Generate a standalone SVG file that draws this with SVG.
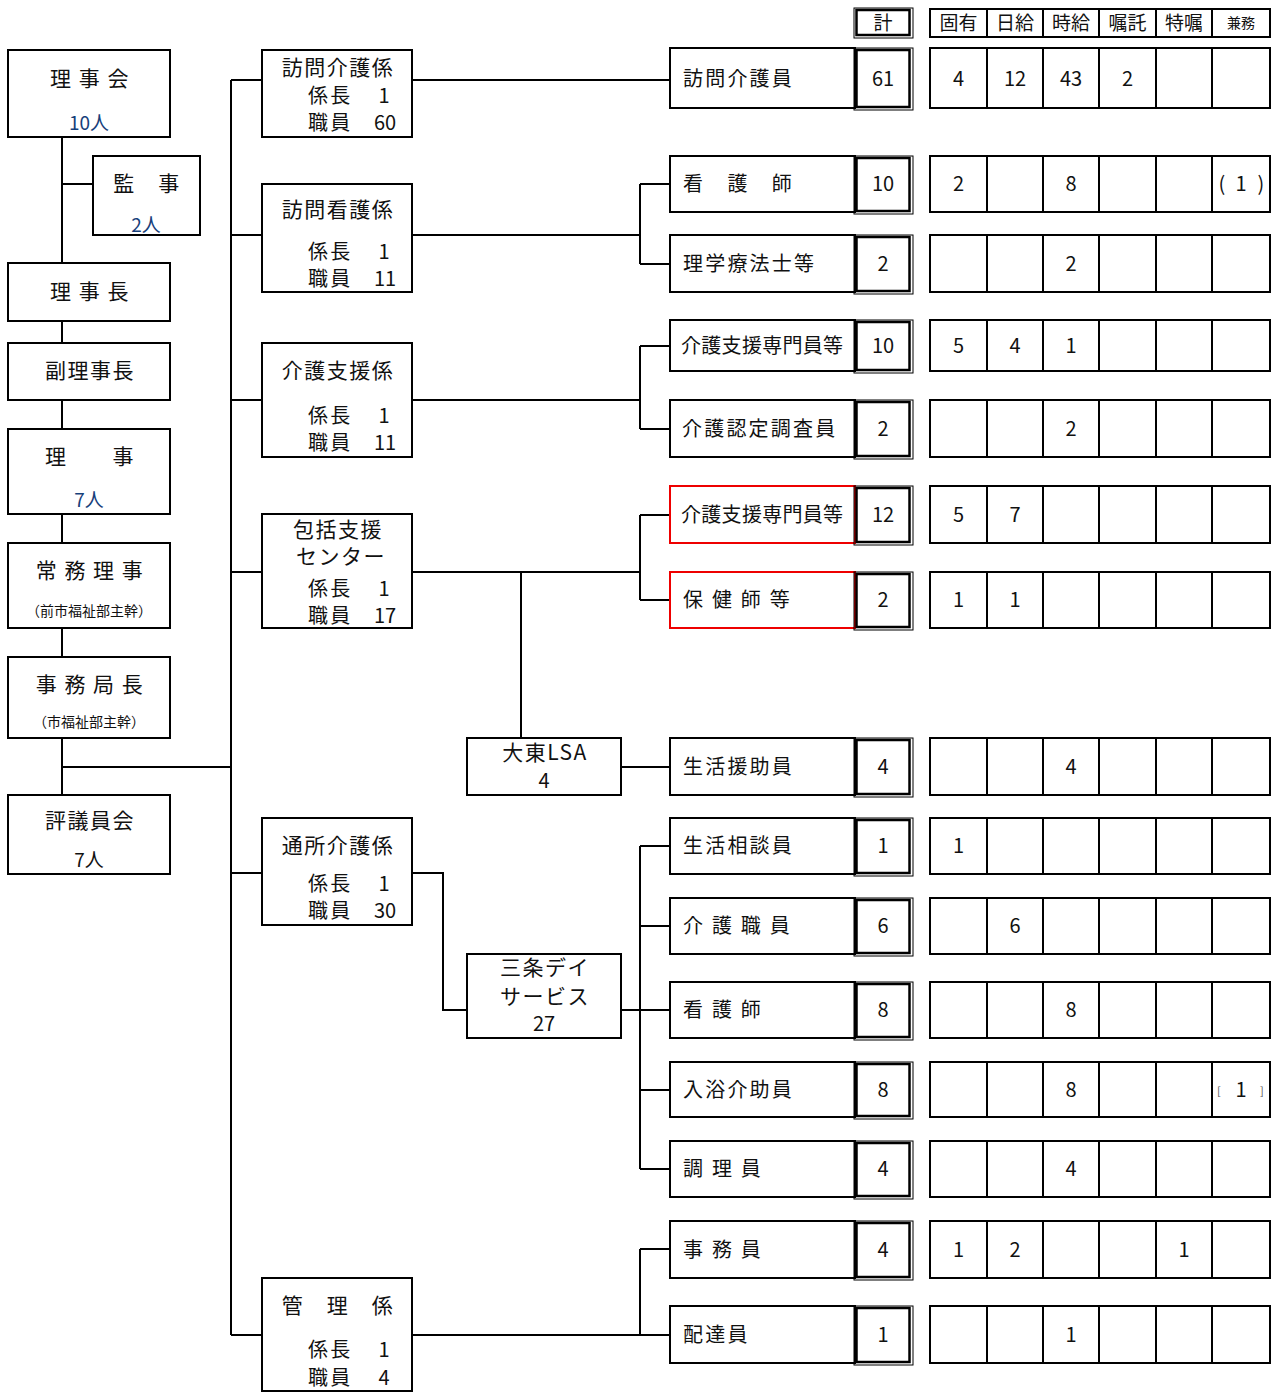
<svg xmlns="http://www.w3.org/2000/svg" width="1274" height="1392" viewBox="0 0 1274 1392">
<style>
text{font-family:"Noto Sans CJK JP","Noto Sans CJK SC",sans-serif;fill:#111}
.b{fill:#fff;stroke:#000;stroke-width:2}
.r{fill:#fff;stroke:#e00;stroke-width:2}
.ln{stroke:#000;stroke-width:2;fill:none}
.o{fill:none;stroke:#000;stroke-width:1}
.i{fill:none;stroke:#000;stroke-width:2.5}
.t{font-size:21px;text-anchor:middle;letter-spacing:1.5px}
.s{font-size:14px;text-anchor:middle}
.m{font-size:19px;text-anchor:middle}
.lb{font-size:20px;letter-spacing:2.2px}
.n{font-size:20px;text-anchor:middle}
.bl{fill:#17407a}
</style>
<g id="connectors">
<path class="ln" d="M62 137V795M62 184H93M62 767H231M231 80V1335M231 80H262M231 235H262M231 400H262M231 572H262M231 873H262M231 1335H262"/>
<path class="ln" d="M412 80H670M412 235H640M640 184V264M640 184H670M640 264H670"/>
<path class="ln" d="M412 400H640M640 346V429M640 346H670M640 429H670"/>
<path class="ln" d="M412 572H640M640 515V600M640 515H670M640 600H670M521 572V738M621 767H670"/>
<path class="ln" d="M412 873H443V1010H467M621 1010H640M640 846V1169M640 846H670M640 926H670M640 1010H670M640 1090H670M640 1169H670"/>
<path class="ln" d="M412 1335H670M640 1249V1335M640 1249H670"/>
</g>
<g id="rijikai"><rect class="b" x="8" y="50" width="162" height="87"/><text class="t" x="90" y="86">理 事 会</text><text class="m bl" x="89" y="130">10人</text></g>
<g id="kanji"><rect class="b" x="93" y="156" width="107" height="79"/><text class="t" x="147" y="191">監　事</text><text class="m bl" x="146" y="232">2人</text></g>
<g id="rijicho"><rect class="b" x="8" y="263" width="162" height="58"/><text class="t" x="90" y="299">理 事 長</text></g>
<g id="fukurijicho"><rect class="b" x="8" y="343" width="162" height="57"/><text class="t" x="90" y="378">副理事長</text></g>
<g id="riji"><rect class="b" x="8" y="429" width="162" height="85"/><text class="t" x="90" y="464">理　　事</text><text class="m bl" x="89" y="507">7人</text></g>
<g id="jomuriji"><rect class="b" x="8" y="543" width="162" height="85"/><text class="t" x="90" y="578">常 務 理 事</text><text class="s" x="89" y="616">（前市福祉部主幹）</text></g>
<g id="jimukyokucho"><rect class="b" x="8" y="657" width="162" height="81"/><text class="t" x="90" y="692">事 務 局 長</text><text class="s" x="89" y="727">（市福祉部主幹）</text></g>
<g id="hyogiinkai"><rect class="b" x="8" y="795" width="162" height="79"/><text class="t" x="90" y="828">評議員会</text><text class="m" x="89" y="867">7人</text></g>

<g id="houmonkaigo"><rect class="b" x="262" y="50" width="150" height="87"/><text class="t" x="338" y="75">訪問介護係</text><text class="lb" x="308" y="103">係長</text><text class="n" x="384" y="103">1</text><text class="lb" x="308" y="130">職員</text><text class="n" x="385" y="130">60</text></g>
<g id="houmonkango"><rect class="b" x="262" y="184" width="150" height="108"/><text class="t" x="338" y="217">訪問看護係</text><text class="lb" x="308" y="259">係長</text><text class="n" x="384" y="259">1</text><text class="lb" x="308" y="286">職員</text><text class="n" x="385" y="286">11</text></g>
<g id="kaigoshien"><rect class="b" x="262" y="343" width="150" height="114"/><text class="t" x="338" y="378">介護支援係</text><text class="lb" x="308" y="423">係長</text><text class="n" x="384" y="423">1</text><text class="lb" x="308" y="450">職員</text><text class="n" x="385" y="450">11</text></g>
<g id="houkatsu"><rect class="b" x="262" y="514" width="150" height="114"/><text class="t" x="338" y="537">包括支援</text><text class="t" x="341" y="564">センター</text><text class="lb" x="308" y="596">係長</text><text class="n" x="384" y="596">1</text><text class="lb" x="308" y="623">職員</text><text class="n" x="385" y="623">17</text></g>
<g id="tsusho"><rect class="b" x="262" y="818" width="150" height="107"/><text class="t" x="338" y="853">通所介護係</text><text class="lb" x="308" y="891">係長</text><text class="n" x="384" y="891">1</text><text class="lb" x="308" y="918">職員</text><text class="n" x="385" y="918">30</text></g>
<g id="kanri"><rect class="b" x="262" y="1278" width="150" height="113"/><text class="t" x="338" y="1313">管　理　係</text><text class="lb" x="308" y="1357">係長</text><text class="n" x="384" y="1357">1</text><text class="lb" x="308" y="1385">職員</text><text class="n" x="384" y="1385">4</text></g>
<g id="daitolsa"><rect class="b" x="467" y="738" width="154" height="57"/><text class="t" x="545" y="760">大東LSA</text><text class="n" x="544" y="788">4</text></g>
<g id="sanjo"><rect class="b" x="467" y="954" width="154" height="84"/><text class="t" x="545" y="975">三条デイ</text><text class="t" x="545" y="1004">サービス</text><text class="n" x="544" y="1031">27</text></g>

<g id="header">
<rect class="o" x="854" y="8" width="59" height="30"/><rect class="i" x="856.5" y="10" width="53" height="25"/><text class="m" x="883" y="30">計</text>
<rect class="b" x="930" y="9" width="340" height="28"/>
<path class="ln" d="M987 9V37M1043 9V37M1099 9V37M1156 9V37M1212 9V37"/>
<text class="m" x="958.5" y="30">固有</text><text class="m" x="1015" y="30">日給</text><text class="m" x="1071" y="30">時給</text><text class="m" x="1127.5" y="30">嘱託</text><text class="m" x="1184" y="30">特嘱</text><text class="s" x="1241" y="28">兼務</text>
</g>

<g id="row1"><rect class="b" x="670" y="48" width="185" height="60"/><text class="lb" x="683" y="86">訪問介護員</text><rect class="o" x="854" y="48" width="59" height="62"/><rect class="i" x="856.5" y="50" width="53" height="57"/><text class="n" x="883" y="86">61</text>
<rect class="b" x="930" y="48" width="340" height="60"/><path class="ln" d="M987 48V108M1043 48V108M1099 48V108M1156 48V108M1212 48V108"/>
<text class="n" x="958.5" y="86">4</text><text class="n" x="1015" y="86">12</text><text class="n" x="1071" y="86">43</text><text class="n" x="1127.5" y="86">2</text></g>

<g id="row2"><rect class="b" x="670" y="156" width="185" height="56"/><text class="lb" x="683" y="191">看　護　師</text><rect class="o" x="854" y="156" width="59" height="58"/><rect class="i" x="856.5" y="158" width="53" height="53"/><text class="n" x="883" y="191">10</text>
<rect class="b" x="930" y="156" width="340" height="56"/><path class="ln" d="M987 156V212M1043 156V212M1099 156V212M1156 156V212M1212 156V212"/>
<text class="n" x="958.5" y="191">2</text><text class="n" x="1071" y="191">8</text><text class="n" y="191"><tspan x="1222">(</tspan><tspan x="1241">1</tspan><tspan x="1261">)</tspan></text></g>

<g id="row3"><rect class="b" x="670" y="235" width="185" height="57"/><text class="lb" x="683" y="271">理学療法士等</text><rect class="o" x="854" y="235" width="59" height="59"/><rect class="i" x="856.5" y="237" width="53" height="54"/><text class="n" x="883" y="271">2</text>
<rect class="b" x="930" y="235" width="340" height="57"/><path class="ln" d="M987 235V292M1043 235V292M1099 235V292M1156 235V292M1212 235V292"/>
<text class="n" x="1071" y="271">2</text></g>

<g id="row4"><rect class="b" x="670" y="320" width="185" height="51"/><text class="lb" x="681" y="353" style="letter-spacing:0.3px">介護支援専門員等</text><rect class="o" x="854" y="320" width="59" height="53"/><rect class="i" x="856.5" y="322" width="53" height="48"/><text class="n" x="883" y="353">10</text>
<rect class="b" x="930" y="320" width="340" height="51"/><path class="ln" d="M987 320V371M1043 320V371M1099 320V371M1156 320V371M1212 320V371"/>
<text class="n" x="958.5" y="353">5</text><text class="n" x="1015" y="353">4</text><text class="n" x="1071" y="353">1</text></g>

<g id="row5"><rect class="b" x="670" y="400" width="185" height="57"/><text class="lb" x="682" y="436">介護認定調査員</text><rect class="o" x="854" y="400" width="59" height="59"/><rect class="i" x="856.5" y="402" width="53" height="54"/><text class="n" x="883" y="436">2</text>
<rect class="b" x="930" y="400" width="340" height="57"/><path class="ln" d="M987 400V457M1043 400V457M1099 400V457M1156 400V457M1212 400V457"/>
<text class="n" x="1071" y="436">2</text></g>

<g id="row6"><rect class="r" x="670" y="486" width="185" height="57"/><text class="lb" x="681" y="522" style="letter-spacing:0.3px">介護支援専門員等</text><rect class="o" x="854" y="486" width="59" height="59"/><rect class="i" x="856.5" y="488" width="53" height="54"/><text class="n" x="883" y="522">12</text>
<rect class="b" x="930" y="486" width="340" height="57"/><path class="ln" d="M987 486V543M1043 486V543M1099 486V543M1156 486V543M1212 486V543"/>
<text class="n" x="958.5" y="522">5</text><text class="n" x="1015" y="522">7</text></g>

<g id="row7"><rect class="r" x="670" y="572" width="185" height="56"/><text class="lb" x="683" y="607">保 健 師 等</text><rect class="o" x="854" y="572" width="59" height="58"/><rect class="i" x="856.5" y="574" width="53" height="53"/><text class="n" x="883" y="607">2</text>
<rect class="b" x="930" y="572" width="340" height="56"/><path class="ln" d="M987 572V628M1043 572V628M1099 572V628M1156 572V628M1212 572V628"/>
<text class="n" x="958.5" y="607">1</text><text class="n" x="1015" y="607">1</text></g>

<g id="row8"><rect class="b" x="670" y="738" width="185" height="57"/><text class="lb" x="683" y="774">生活援助員</text><rect class="o" x="854" y="738" width="59" height="59"/><rect class="i" x="856.5" y="740" width="53" height="54"/><text class="n" x="883" y="774">4</text>
<rect class="b" x="930" y="738" width="340" height="57"/><path class="ln" d="M987 738V795M1043 738V795M1099 738V795M1156 738V795M1212 738V795"/>
<text class="n" x="1071" y="774">4</text></g>

<g id="row9"><rect class="b" x="670" y="818" width="185" height="56"/><text class="lb" x="683" y="853">生活相談員</text><rect class="o" x="854" y="818" width="59" height="58"/><rect class="i" x="856.5" y="820" width="53" height="53"/><text class="n" x="883" y="853">1</text>
<rect class="b" x="930" y="818" width="340" height="56"/><path class="ln" d="M987 818V874M1043 818V874M1099 818V874M1156 818V874M1212 818V874"/>
<text class="n" x="958.5" y="853">1</text></g>

<g id="row10"><rect class="b" x="670" y="898" width="185" height="56"/><text class="lb" x="683" y="933">介 護 職 員</text><rect class="o" x="854" y="898" width="59" height="58"/><rect class="i" x="856.5" y="900" width="53" height="53"/><text class="n" x="883" y="933">6</text>
<rect class="b" x="930" y="898" width="340" height="56"/><path class="ln" d="M987 898V954M1043 898V954M1099 898V954M1156 898V954M1212 898V954"/>
<text class="n" x="1015" y="933">6</text></g>

<g id="row11"><rect class="b" x="670" y="982" width="185" height="56"/><text class="lb" x="683" y="1017">看 護 師</text><rect class="o" x="854" y="982" width="59" height="58"/><rect class="i" x="856.5" y="984" width="53" height="53"/><text class="n" x="883" y="1017">8</text>
<rect class="b" x="930" y="982" width="340" height="56"/><path class="ln" d="M987 982V1038M1043 982V1038M1099 982V1038M1156 982V1038M1212 982V1038"/>
<text class="n" x="1071" y="1017">8</text></g>

<g id="row12"><rect class="b" x="670" y="1062" width="185" height="55"/><text class="lb" x="683" y="1097">入浴介助員</text><rect class="o" x="854" y="1062" width="59" height="57"/><rect class="i" x="856.5" y="1064" width="53" height="52"/><text class="n" x="883" y="1097">8</text>
<rect class="b" x="930" y="1062" width="340" height="55"/><path class="ln" d="M987 1062V1117M1043 1062V1117M1099 1062V1117M1156 1062V1117M1212 1062V1117"/>
<text class="n" x="1071" y="1097">8</text><text class="n" x="1241" y="1097">1</text><text x="1217" y="1095" style="font-size:11px;fill:#555">[</text><text x="1260" y="1095" style="font-size:11px;fill:#555">]</text></g>

<g id="row13"><rect class="b" x="670" y="1141" width="185" height="56"/><text class="lb" x="683" y="1176">調 理 員</text><rect class="o" x="854" y="1141" width="59" height="58"/><rect class="i" x="856.5" y="1143" width="53" height="53"/><text class="n" x="883" y="1176">4</text>
<rect class="b" x="930" y="1141" width="340" height="56"/><path class="ln" d="M987 1141V1197M1043 1141V1197M1099 1141V1197M1156 1141V1197M1212 1141V1197"/>
<text class="n" x="1071" y="1176">4</text></g>

<g id="row14"><rect class="b" x="670" y="1221" width="185" height="57"/><text class="lb" x="683" y="1257">事 務 員</text><rect class="o" x="854" y="1221" width="59" height="59"/><rect class="i" x="856.5" y="1223" width="53" height="54"/><text class="n" x="883" y="1257">4</text>
<rect class="b" x="930" y="1221" width="340" height="57"/><path class="ln" d="M987 1221V1278M1043 1221V1278M1099 1221V1278M1156 1221V1278M1212 1221V1278"/>
<text class="n" x="958.5" y="1257">1</text><text class="n" x="1015" y="1257">2</text><text class="n" x="1184" y="1257">1</text></g>

<g id="row15"><rect class="b" x="670" y="1306" width="185" height="57"/><text class="lb" x="683" y="1342">配達員</text><rect class="o" x="854" y="1306" width="59" height="59"/><rect class="i" x="856.5" y="1308" width="53" height="54"/><text class="n" x="883" y="1342">1</text>
<rect class="b" x="930" y="1306" width="340" height="57"/><path class="ln" d="M987 1306V1363M1043 1306V1363M1099 1306V1363M1156 1306V1363M1212 1306V1363"/>
<text class="n" x="1071" y="1342">1</text></g>
</svg>
